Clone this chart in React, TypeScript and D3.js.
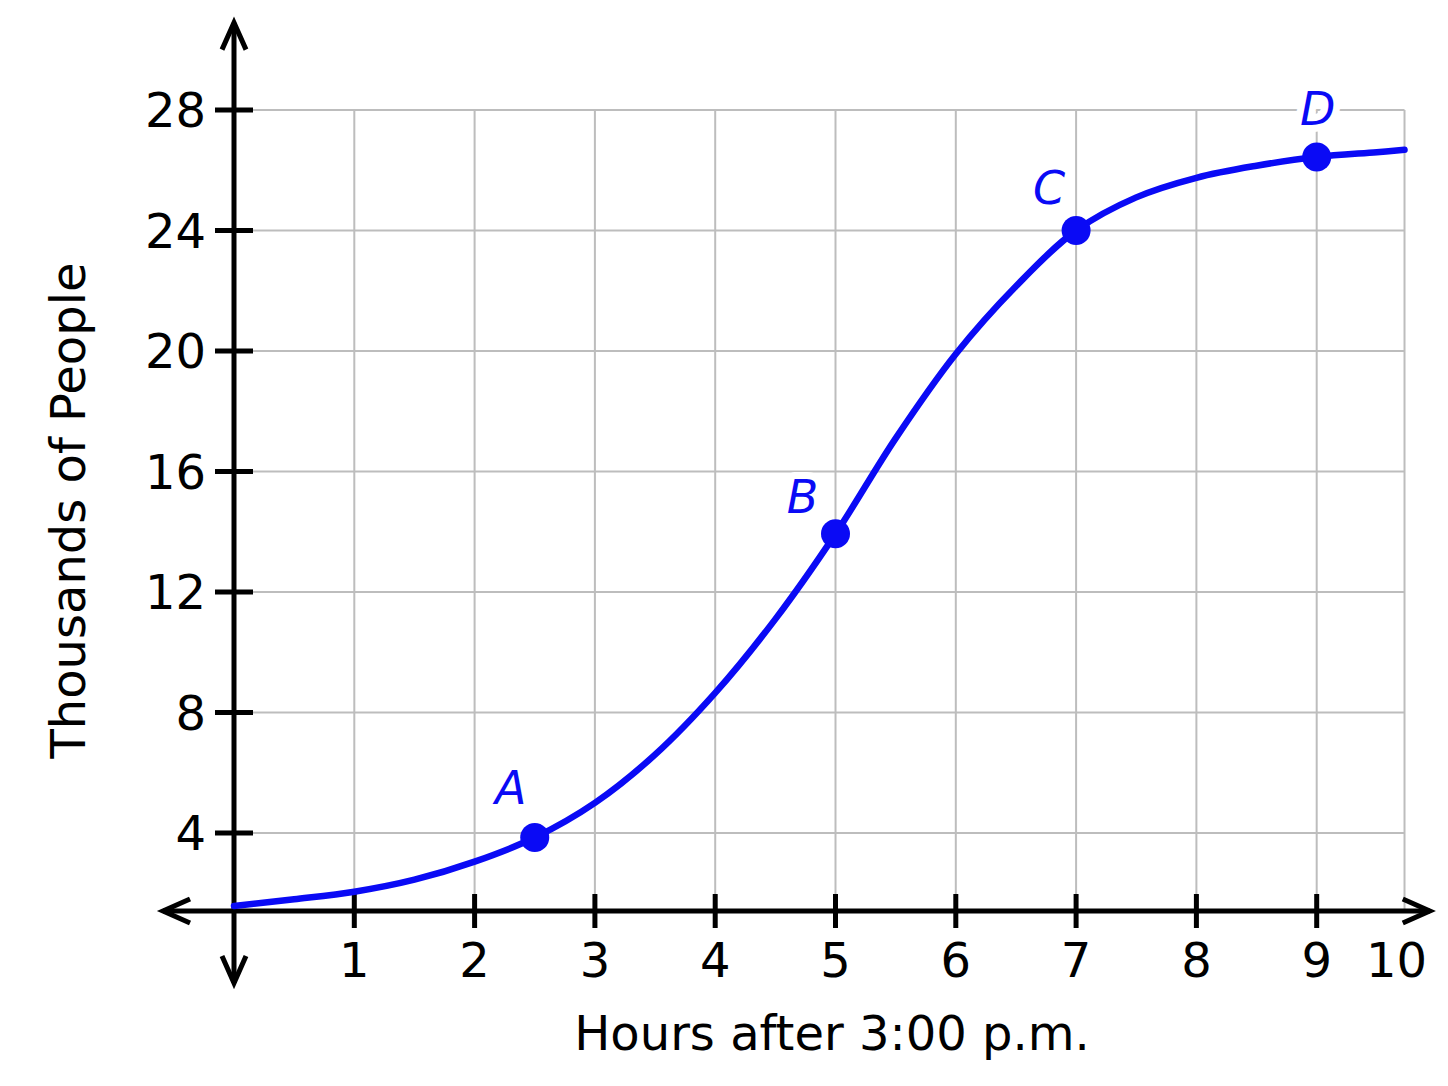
import * as d3 from "d3";

// curve (hours after 3 pm, thousands of people)
const hours = [0, 0.5, 1, 1.5, 2, 2.5, 3, 3.5, 4, 4.5, 5, 5.5, 6, 6.5, 7, 7.5, 8, 8.5, 9, 9.5, 9.73];
const people = [1.58, 1.8, 2.05, 2.45, 3.05, 3.85, 5.0, 6.6, 8.65, 11.1, 13.93, 17.1, 19.9, 22.15, 24.0, 25.1, 25.75, 26.15, 26.44, 26.6, 26.68];

const pointNames = ["A", "B", "C", "D"];
const pointHours = [2.5, 5, 7, 9];
const pointPeople = [3.85, 13.93, 24.0, 26.44];

const xTicks = [1, 2, 3, 4, 5, 6, 7, 8, 9];
const yTicks = [4, 8, 12, 16, 20, 24, 28];

const X_END = 9.73; // right edge of the grid
const X_AXIS_AT = 1.41; // where the horizontal axis crosses
const X_AXIS_EXTENT = [-0.59, 9.94];
const Y_AXIS_EXTENT = [-0.98, 30.9];

// label offsets in px (dx, dy) from each point
const labelOffsets: Record<string, [number, number]> = {
  A: [-24, -34],
  B: [-33, -21],
  C: [-27, -27],
  D: [1, -32],
};

const W = 1448;
const H = 1086;
const FONT = "'DejaVu Sans', Verdana, sans-serif";
const BLUE = "#0a0af5";

export default function App() {
  const x = d3.scaleLinear().domain([0, 10]).range([234, 1437]);
  const y = d3.scaleLinear().domain([0, 28]).range([953.5, 110]);

  const line = d3
    .line<number>()
    .x((_, i) => x(hours[i]))
    .y((d) => y(d))
    .curve(d3.curveCatmullRom.alpha(0.5));

  const axisY = y(X_AXIS_AT);
  const x0 = x(0);
  const gridRight = x(X_END);
  const gridTop = y(28);

  const arrow = (tx: number, ty: number, dir: "l" | "r" | "u" | "d") => {
    const a = 27;
    const b = 12;
    let p = "";
    if (dir === "l") p = `M${tx + a},${ty - b}L${tx},${ty}L${tx + a},${ty + b}`;
    if (dir === "r") p = `M${tx - a},${ty - b}L${tx},${ty}L${tx - a},${ty + b}`;
    if (dir === "u") p = `M${tx - b},${ty + a}L${tx},${ty}L${tx + b},${ty + a}`;
    if (dir === "d") p = `M${tx - b},${ty - a}L${tx},${ty}L${tx + b},${ty - a}`;
    return <path d={p} fill="none" stroke="#000" strokeWidth={5} strokeLinejoin="miter" />;
  };

  return (
    <svg
      width={W}
      height={H}
      style={{ position: "absolute", left: 0, top: 0, background: "#fff" }}
      fontFamily={FONT}
    >
      {/* grid */}
      <g stroke="#bdbdbd" strokeWidth={2}>
        {yTicks.map((t) => (
          <line key={`gy${t}`} x1={x0} x2={gridRight} y1={y(t)} y2={y(t)} />
        ))}
        {[...xTicks, X_END].map((t) => (
          <line key={`gx${t}`} x1={x(t)} x2={x(t)} y1={axisY} y2={gridTop} />
        ))}
      </g>

      {/* axes */}
      <g stroke="#000" strokeWidth={5}>
        <line x1={x(X_AXIS_EXTENT[0])} x2={x(X_AXIS_EXTENT[1])} y1={axisY} y2={axisY} />
        <line x1={x0} x2={x0} y1={y(Y_AXIS_EXTENT[0])} y2={y(Y_AXIS_EXTENT[1])} />
        {xTicks.map((t) => (
          <line key={`tx${t}`} x1={x(t)} x2={x(t)} y1={axisY - 17} y2={axisY + 17} />
        ))}
        {yTicks.map((t) => (
          <line key={`ty${t}`} x1={x0 - 19} x2={x0 + 19} y1={y(t)} y2={y(t)} />
        ))}
      </g>
      {arrow(x(X_AXIS_EXTENT[0]), axisY, "l")}
      {arrow(x(X_AXIS_EXTENT[1]), axisY, "r")}
      {arrow(x0, y(Y_AXIS_EXTENT[1]), "u")}
      {arrow(x0, y(Y_AXIS_EXTENT[0]), "d")}

      {/* tick labels */}
      <g fontSize={48} fill="#000">
        {xTicks.map((t) => (
          <text key={`lx${t}`} x={x(t)} y={axisY + 66} textAnchor="middle">
            {t}
          </text>
        ))}
        <text x={gridRight - 8} y={axisY + 66} textAnchor="middle">
          10
        </text>
        {yTicks.map((t) => (
          <text key={`ly${t}`} x={x0 - 28} y={y(t)} dy="0.36em" textAnchor="end">
            {t}
          </text>
        ))}
      </g>

      {/* axis titles */}
      <text x={832} y={1050} fontSize={48} textAnchor="middle" fill="#000">
        Hours after 3:00 p.m.
      </text>
      <text
        transform={`translate(85,${(y(28) + axisY) / 2}) rotate(-90)`}
        fontSize={48}
        textAnchor="middle"
        fill="#000"
      >
        Thousands of People
      </text>

      {/* curve */}
      <path d={line(people) ?? ""} fill="none" stroke={BLUE} strokeWidth={6.5} strokeLinecap="round" />

      {/* points */}
      {pointNames.map((n, i) => {
        const [dx, dy] = labelOffsets[n];
        return (
          <g key={n}>
            <circle cx={x(pointHours[i])} cy={y(pointPeople[i])} r={14.5} fill={BLUE} />
            <text
              x={x(pointHours[i]) + dx}
              y={y(pointPeople[i]) + dy}
              fontSize={46}
              fontStyle="italic"
              textAnchor="middle"
              fill={BLUE}
              stroke="#fff"
              strokeWidth={14}
              strokeLinejoin="round"
              paintOrder="stroke"
            >
              {n}
            </text>
          </g>
        );
      })}
    </svg>
  );
}
